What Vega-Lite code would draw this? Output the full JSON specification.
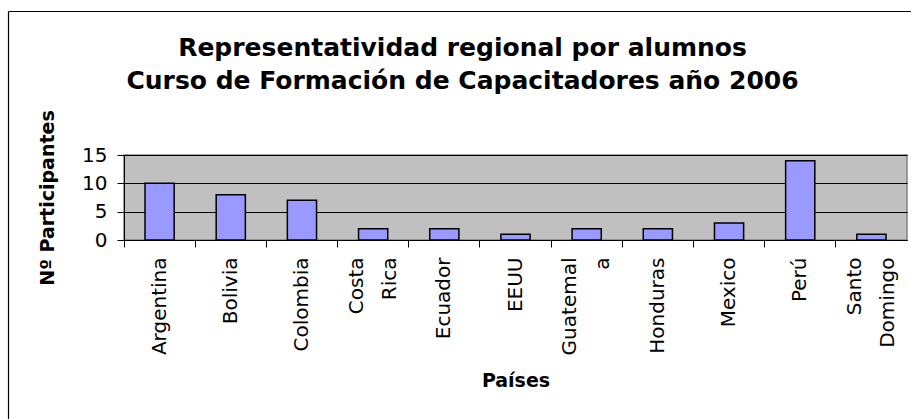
{
  "$schema": "https://vega.github.io/schema/vega-lite/v6.json",
  "width": 783,
  "height": 85,
  "autosize": {"type": "none"},
  "padding": {"left": 124, "top": 155, "right": 4, "bottom": 179},
  "background": "white",
  "title": {
    "text": ["Representatividad regional por alumnos", "Curso de Formación de Capacitadores año 2006"],
    "font": "DejaVu Sans",
    "fontSize": 25,
    "fontWeight": "bold",
    "color": "black",
    "lineHeight": 33,
    "anchor": "middle",
    "dx": -53,
    "offset": -83
  },
  "layer": [
    {
      "data": {
        "values": [
          {"pais": "Argentina", "n": 10},
          {"pais": "Bolivia", "n": 8},
          {"pais": "Colombia", "n": 7},
          {"pais": "Costa Rica", "n": 2},
          {"pais": "Ecuador", "n": 2},
          {"pais": "EEUU", "n": 1},
          {"pais": "Guatemala", "n": 2},
          {"pais": "Honduras", "n": 2},
          {"pais": "Mexico", "n": 3},
          {"pais": "Perú", "n": 14},
          {"pais": "Santo Domingo", "n": 1}
        ]
      },
      "mark": {"type": "bar", "fill": "#9999FF", "stroke": "black", "strokeWidth": 1.5, "width": {"band": 0.41}},
      "encoding": {
        "x": {
          "field": "pais",
          "type": "nominal",
          "sort": null,
          "scale": {"paddingInner": 0, "paddingOuter": 0},
          "axis": {
            "orient": "bottom",
            "title": "Países",
            "bandPosition": 0,
            "labelAngle": -90,
            "labelAlign": "right",
            "labelBaseline": "middle",
            "labelLineHeight": 33,
            "labelPadding": 10,
            "labelOffset": {"condition": {"test": "datum.value == 'Costa Rica' || datum.value == 'Guatemala' || datum.value == 'Santo Domingo'", "value": -16.5}, "value": 0},
            "labelOverlap": false,
            "labelBound": false,
            "labelFlush": false,
            "tickSize": 7,
            "tickColor": "black",
            "domainColor": "black",
            "titlePadding": 17,
            "labelExpr": "datum.label == 'Costa Rica' ? ['Costa','Rica'] : datum.label == 'Guatemala' ? ['Guatemal','a'] : datum.label == 'Santo Domingo' ? ['Santo','Domingo'] : datum.label"
          }
        },
        "y": {
          "field": "n",
          "type": "quantitative",
          "scale": {"domain": [0, 15], "nice": false},
          "axis": {
            "orient": "left",
            "title": "Nº Participantes",
            "values": [0, 5, 10, 15],
            "grid": true,
            "gridColor": "black",
            "gridOpacity": 1,
            "gridWidth": 1,
            "tickSize": 7,
            "tickColor": "black",
            "domainColor": "black",
            "labelPadding": 10,
            "titlePadding": 24
          }
        }
      }
    },
    {
      "data": {"values": [{"b": 0}]},
      "mark": {"type": "point", "opacity": 0},
      "encoding": {
        "x": {
          "field": "b",
          "type": "quantitative",
          "scale": {"domain": [0, 1], "range": [-116, 800]},
          "axis": {"orient": "top", "offset": 144, "domain": true, "domainColor": "black", "domainWidth": 1.2, "ticks": false, "labels": false, "grid": false, "title": null}
        },
        "y": {
          "field": "b",
          "type": "quantitative",
          "scale": {"domain": [0, 1], "range": [264, -144]},
          "axis": {"orient": "left", "offset": 116, "domain": true, "domainColor": "black", "domainWidth": 1.2, "ticks": false, "labels": false, "grid": false, "title": null}
        }
      }
    }
  ],
  "resolve": {
    "scale": {"x": "independent", "y": "independent"},
    "axis": {"x": "independent", "y": "independent"}
  },
  "config": {
    "view": {"fill": "#C0C0C0", "stroke": "#808080", "strokeWidth": 1.5},
    "axis": {
      "labelFont": "DejaVu Sans",
      "labelFontSize": 20,
      "labelColor": "black",
      "titleFont": "DejaVu Sans",
      "titleFontSize": 19,
      "titleFontWeight": "bold",
      "titleColor": "black",
      "domainWidth": 1,
      "tickWidth": 1
    }
  }
}
